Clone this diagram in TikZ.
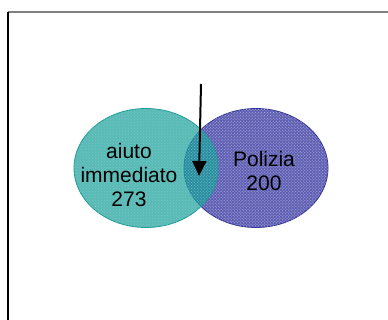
\documentclass[tikz,border=0pt]{standalone}
\usepackage{fontspec}
\setmainfont{Liberation Sans}
\usetikzlibrary{shapes.geometric,arrows.meta,patterns}
\definecolor{tealfill}{RGB}{25,160,155}
\definecolor{tealedge}{RGB}{25,155,150}
\definecolor{bluefill}{RGB}{95,95,180}
\definecolor{blueedge}{RGB}{50,50,150}
\definecolor{framegray}{RGB}{128,128,128}
\tikzset{
  setellipse/.style={ellipse, minimum width=144bp, minimum height=119bp, inner sep=0pt, line width=0.8bp},
  label/.style={align=center, font=\fontsize{21bp}{24bp}\selectfont, text=black, inner sep=0pt},
}
\begin{document}
\begin{tikzpicture}[x=1bp,y=-1bp]
\useasboundingbox (0,0) rectangle (388,320);
\fill[white] (0,0) rectangle (388,320);
\draw[framegray, line width=1.5bp] (8,12) -- (388,12);
\draw[black, line width=1.5bp] (8,12) -- (8,320);
\node[setellipse, draw=blueedge, fill=bluefill] (pol) at (256,168) {};
\node[setellipse, pattern=crosshatch dots, pattern color=white!55!bluefill] (polpat) at (256,168) {};
\node[setellipse, draw=tealedge, fill=tealfill, fill opacity=0.72] (aiu) at (146,168) {};
\node[setellipse, pattern=crosshatch dots, pattern color=white!50!tealfill, fill opacity=0.6] (aiupat) at (146,168) {};
\node[label] (aiutxt) at (129,175) {aiuto\\immediato\\273};
\node[label] (poltxt) at (264,171) {Polizia\\200};
\coordinate (as) at (201,84);
\coordinate (ae) at (199,176);
\draw[line width=2bp, -{Triangle[length=15bp,width=14bp]}] (as) -- (ae);
\end{tikzpicture}
\end{document}
